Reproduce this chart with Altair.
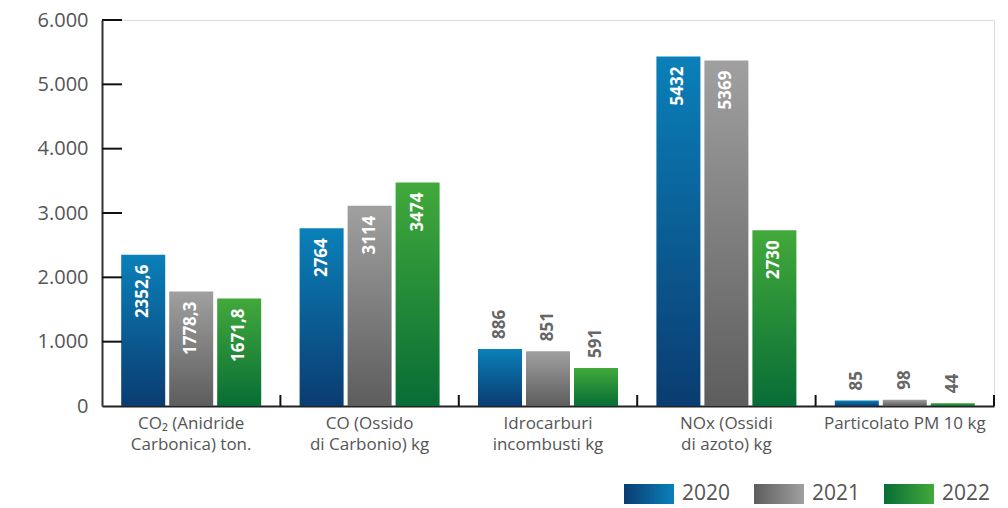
import altair as alt
import pandas as pd

categories = ["CO₂ (Anidride\nCarbonica) ton.", "CO (Ossido\ndi Carbonio) kg",
              "Idrocarburi\nincombusti kg", "NOx (Ossidi\ndi azoto) kg", "Particolato PM 10 kg"]
years = ["2020", "2021", "2022"]
values_2020 = [2352.6, 2764, 886, 5432, 85]
values_2021 = [1778.3, 3114, 851, 5369, 98]
values_2022 = [1671.8, 3474, 591, 2730, 44]
y_ticks = [0, 1000, 2000, 3000, 4000, 5000, 6000]


def fmt(v):
    return f"{v:g}".replace(".", ",")


rows = []
for yr, vals in zip(years, [values_2020, values_2021, values_2022]):
    for c, v in zip(categories, vals):
        rows.append({"cat": c, "year": yr, "value": v, "label": fmt(v), "inside": v > 1000})
df = pd.DataFrame(rows)

FONT = "Open Sans"
W, H = 892, 386

bar_grad = {
    "2020": ("#0a80b9", "#0a3c71"),
    "2021": ("#a0a0a0", "#5d5d5d"),
    "2022": ("#42a93b", "#076d36"),
}


def vgrad(top, bottom):
    return alt.LinearGradient(gradient="linear",
                              stops=[alt.GradientStop(color=top, offset=0),
                                     alt.GradientStop(color=bottom, offset=1)],
                              x1=0, x2=0, y1=0, y2=1)


def hgrad(light, dark):
    return alt.LinearGradient(gradient="linear",
                              stops=[alt.GradientStop(color=dark, offset=0),
                                     alt.GradientStop(color=light, offset=1)],
                              x1=0, x2=1, y1=0, y2=0)


x_scale = alt.Scale(domain=categories, paddingInner=0, paddingOuter=0)
x_axis = alt.Axis(title=None, labelExpr="split(datum.label, '\\n')", labelAngle=0,
                  labelFontSize=17, labelColor="#555555", labelLineHeight=21,
                  labelPadding=9, ticks=False, domainColor="#222222", domainWidth=2,
                  labelBaseline="top", labelFont=FONT)
x_enc = alt.X("cat:N", sort=categories, scale=x_scale, axis=x_axis)
xoff = alt.XOffset("year:N", scale=alt.Scale(domain=years, paddingInner=0.083, paddingOuter=0.4))
y_enc = alt.Y("value:Q", scale=alt.Scale(domain=[0, 6000], nice=False),
              axis=alt.Axis(values=y_ticks, title=None,
                            labelExpr="replace(format(datum.value, ','), ',', '.')",
                            labelFontSize=20, labelColor="#555555", ticks=False,
                            labelPadding=14, domainColor="#333333", domainWidth=2,
                            grid=False, labelFont=FONT))

base = alt.Chart(df)
bars = [
    base.transform_filter(alt.datum.year == yr)
        .mark_bar(color=vgrad(*bar_grad[yr]))
        .encode(x=x_enc, xOffset=xoff, y=y_enc)
    for yr in years
]

txt_in = base.transform_filter("datum.inside").mark_text(
    angle=270, align="right", baseline="middle", dx=-10, color="white",
    fontWeight="bold", fontSize=17, font=FONT
).encode(x=x_enc, xOffset=xoff, y=y_enc, text="label:N")

txt_out = base.transform_filter("!datum.inside").mark_text(
    angle=270, align="left", baseline="middle", dx=10, color="#666666",
    fontWeight="bold", fontSize=17, font=FONT
).encode(x=x_enc, xOffset=xoff, y=y_enc, text="label:N")

ytick_rules = alt.Chart(pd.DataFrame({"value": y_ticks[1:]})).mark_rule(
    color="#111111", strokeWidth=2
).encode(y=alt.Y("value:Q"), x=alt.value(0), x2=alt.value(20))

xtick_rules = alt.Chart(pd.DataFrame({"cat": categories})).mark_rule(
    color="#111111", strokeWidth=2
).encode(x=alt.X("cat:N", sort=categories, bandPosition=1),
         y=alt.value(H - 11), y2=alt.value(H))

main = alt.layer(*bars, txt_in, txt_out, ytick_rules, xtick_rules)

leg_df = pd.DataFrame({"year": years})
leg_x = alt.X("year:N", scale=alt.Scale(type="band", domain=years, range=[482, 872],
                                        paddingInner=0, paddingOuter=0), axis=None)
leg_bars = [
    alt.Chart(leg_df).transform_filter(alt.datum.year == yr)
       .mark_bar(width=50, color=hgrad(*bar_grad[yr]))
       .encode(x=leg_x, y=alt.value(464), y2=alt.value(484))
    for yr in years
]
leg_text = alt.Chart(leg_df).mark_text(
    align="left", baseline="middle", dx=33, fontSize=21, color="#555555", font=FONT
).encode(x=leg_x, y=alt.value(474), text="year:N")
legend = alt.layer(*leg_bars, leg_text)

chart = alt.layer(main, legend).resolve_scale(x="independent").properties(
    width=W, height=H, padding={"left": 29, "top": 2, "right": 5, "bottom": 10}
).configure_view(stroke=None).configure(font=FONT)

chart.save("out.html", embed_options={"renderer": "svg", "actions": False})
